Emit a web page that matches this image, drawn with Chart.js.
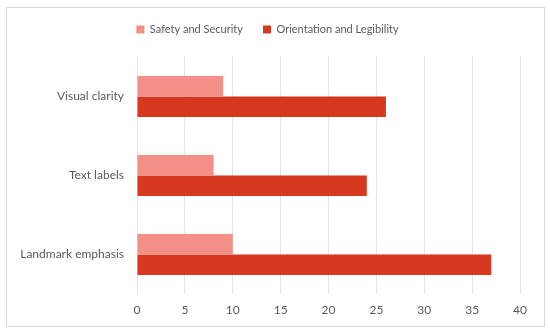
<!DOCTYPE html>
<html>
<head>
<meta charset="utf-8">
<script src="https://cdn.jsdelivr.net/npm/chart.js@4"></script>
<style>
  body { margin: 0; background: #fff; }
  #box {
    position: absolute; left: 6px; top: 7px;
    width: 537px; height: 318px;
    border: 1px solid #d9d9d9;
  }
  #myChart { position: absolute; left: 0; top: -8px; }
</style>
</head>
<body>
<div id="box"><canvas id="myChart" width="537" height="326"></canvas></div>
<script>
const categories = ["Visual clarity", "Text labels", "Landmark emphasis"]
const safety = [9, 8, 10]
const orientation = [26, 24, 37]
const xTicks = [0, 5, 10, 15, 20, 25, 30, 35, 40]

const textColor = '#595959'
Chart.defaults.font.family = "Lato, sans-serif"
Chart.defaults.font.size = 12
Chart.defaults.color = textColor

// extra space between legend and plot
const legendGap = {
    id: 'legendGap',
    beforeInit(chart) {
        const fit = chart.legend.fit
        chart.legend.fit = function () {
            fit.call(this)
            this.height += 12
        }
    }
}

const ctx = document.getElementById("myChart").getContext("2d")
new Chart(ctx, {
    type: "bar",
    data: {
        labels: categories,
        datasets: [
            {
                label: "Safety and Security",
                data: safety,
                backgroundColor: 'rgb(243, 143, 135)',
                borderWidth: 0
            },
            {
                label: "Orientation and Legibility",
                data: orientation,
                backgroundColor: 'rgb(214, 57, 32)',
                borderWidth: 0
            }
        ]
    },
    plugins: [legendGap],
    options: {
        responsive: false,
        animation: false,
        indexAxis: 'y',
        categoryPercentage: 0.52,
        barPercentage: 1,
        layout: { padding: { left: 8, right: 24, top: 4, bottom: 0 } },
        plugins: {
            tooltip: { enabled: false },
            legend: {
                position: 'top',
                labels: {
                    boxWidth: 8,
                    boxHeight: 8,
                    padding: 20,
                    color: textColor,
                    font: { size: 11 }
                }
            }
        },
        scales: {
            x: {
                min: 0,
                max: 40,
                afterBuildTicks: (scale) => { scale.ticks = xTicks.map(v => ({ value: v })) },
                grid: { color: '#e3e3e3', drawTicks: false },
                border: { display: false },
                ticks: { padding: 9, color: textColor },
                afterFit: (scale) => { scale.height = 32 }
            },
            y: {
                grid: { display: false, drawTicks: false },
                border: { display: false },
                ticks: { padding: 13, color: textColor },
                afterFit: (scale) => { scale.width = 122 }
            }
        }
    }
})
</script>
</body>
</html>
